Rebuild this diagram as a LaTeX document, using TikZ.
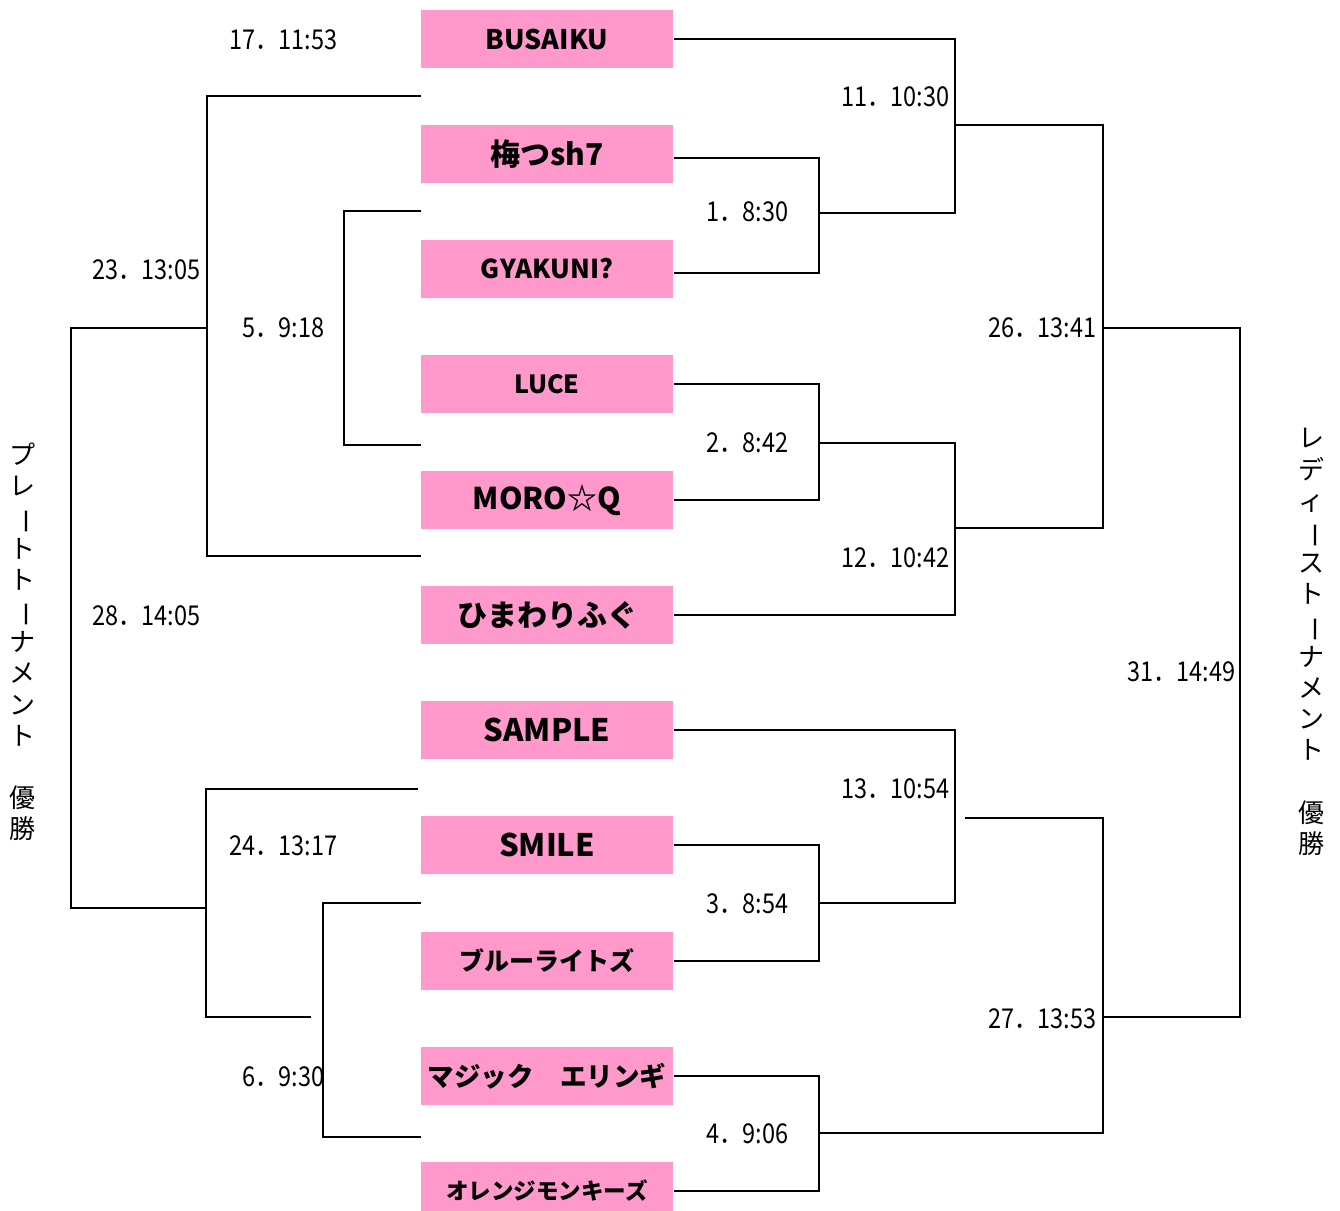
\documentclass[tikz,border=0pt]{standalone}
\usepackage{fontspec}
\setmainfont{Noto Sans CJK JP}
\newfontfamily\lblfont[FakeStretch=0.86]{Noto Sans CJK JP}
\definecolor{teampink}{RGB}{255,153,204}
\newcommand{\tbar}{\smash{\rotatebox[origin=c]{-90}{ー}}}

\begin{document}
\begin{tikzpicture}[x=0.75pt,y=-0.75pt,line width=0.8pt,
    team/.style={fill=teampink,minimum width=189pt,minimum height=43.5pt,inner sep=0pt,
      font=\bfseries\fontsize{#1}{#1}\selectfont},
    res/.style={anchor=east,inner sep=0pt,font=\lblfont\fontsize{20.5pt}{21pt}\selectfont},
    vtext/.style={align=center,inner sep=0pt,font=\fontsize{19.5pt}{23.4pt}\selectfont}]
    \useasboundingbox (0,0) rectangle (1340,1211);
    \node[team=20.25] (bus) at (547,39) {BUSAIKU};
    \node[team=22.5] (ume) at (547,154) {梅つsh7};
    \node[team=19.5] (gya) at (547,269) {GYAKUNI?};
    \node[team=18.75] (luc) at (547,384) {LUCE};
    \node[team=22.5] (mor) at (547,500) {MORO☆Q};
    \node[team=22.5] (him) at (547,615) {ひまわりふぐ};
    \node[team=23.25] (sam) at (547,730) {SAMPLE};
    \node[team=23.25] (smi) at (547,845) {SMILE};
    \node[team=18.75] (blu) at (547,961) {ブルーライトズ};
    \node[team=19.9] (mag) at (547,1076) {マジック　エリンギ};
    \node[team=16.9] (ora) at (547,1191) {オレンジモンキーズ};
    \coordinate (g1) at (819,213);
    \coordinate (g2) at (819,443);
    \coordinate (g3) at (819,903);
    \coordinate (g4) at (819,1133);
    \coordinate (g11) at (955,125);
    \coordinate (g12) at (955,528);
    \coordinate (g13) at (955,818);
    \coordinate (w13) at (965,818);
    \coordinate (g26) at (1103,328);
    \coordinate (g27) at (1103,1017);
    \coordinate (g31) at (1240,672);
    \coordinate (s1) at (421,96);
    \coordinate (s2) at (421,211);
    \coordinate (s3) at (421,445);
    \coordinate (s4) at (421,556);
    \coordinate (s5) at (418,789);
    \coordinate (s6) at (421,903);
    \coordinate (s7) at (311,1017);
    \coordinate (s8) at (421,1137);
    \coordinate (p5) at (344,328);
    \coordinate (p6) at (323,1020);
    \coordinate (p23) at (207,328);
    \coordinate (p24) at (206,908);
    \coordinate (p28) at (71,616);
    \draw ([yshift=-3pt]ume.east) -| (g1) |- ([yshift=-3pt]gya.east);
    \draw (luc.east) -| (g2) |- (mor.east);
    \draw (smi.east) -| (g3) |- (blu.east);
    \draw (mag.east) -| (g4) |- (ora.east);
    \draw (bus.east) -| (g11) |- (g1);
    \draw (g2) -| (g12) |- (him.east);
    \draw (sam.east) -| (g13) |- (g3);
    \draw (g11) -| (g26) |- (g12);
    \draw (w13) -| (g27) |- (g4);
    \draw (g26) -| (g31) |- (g27);
    \draw (s2) -| (p5) |- (s3);
    \draw (s1) -| (p23) |- (s4);
    \draw (p23) -| (p28) |- (p24);
    \draw (s5) -| (p24) |- (s7);
    \draw (s6) -| (p6) |- (s8);
    \node[res] (r1) at (789,212) {1．8:30};
    \node[res] (r2) at (789,443) {2．8:42};
    \node[res] (r3) at (789,904) {3．8:54};
    \node[res] (r4) at (789,1134) {4．9:06};
    \node[res] (r11) at (950,97) {11．10:30};
    \node[res] (r12) at (950,558) {12．10:42};
    \node[res] (r13) at (950,789) {13．10:54};
    \node[res] (r26) at (1097,328) {26．13:41};
    \node[res] (r27) at (1097,1019) {27．13:53};
    \node[res] (r31) at (1236,672) {31．14:49};
    \node[res] (r17) at (338,40) {17．11:53};
    \node[res] (r23) at (201,270) {23．13:05};
    \node[res] (r5) at (325,328) {5．9:18};
    \node[res] (r28) at (201,616) {28．14:05};
    \node[res] (r24) at (338,846) {24．13:17};
    \node[res] (r6) at (325,1077) {6．9:30};
    \node[vtext] (plate) at (22,642) {プ\\レ\\\tbar\\ト\\ト\\\tbar\\ナ\\メ\\ン\\ト\\\mbox{}\\優\\勝};
    \node[vtext] (ladies) at (1311,642) {レ\\デ\\ィ\\\tbar\\ス\\ト\\\tbar\\ナ\\メ\\ン\\ト\\\mbox{}\\優\\勝};
\end{tikzpicture}
\end{document}
